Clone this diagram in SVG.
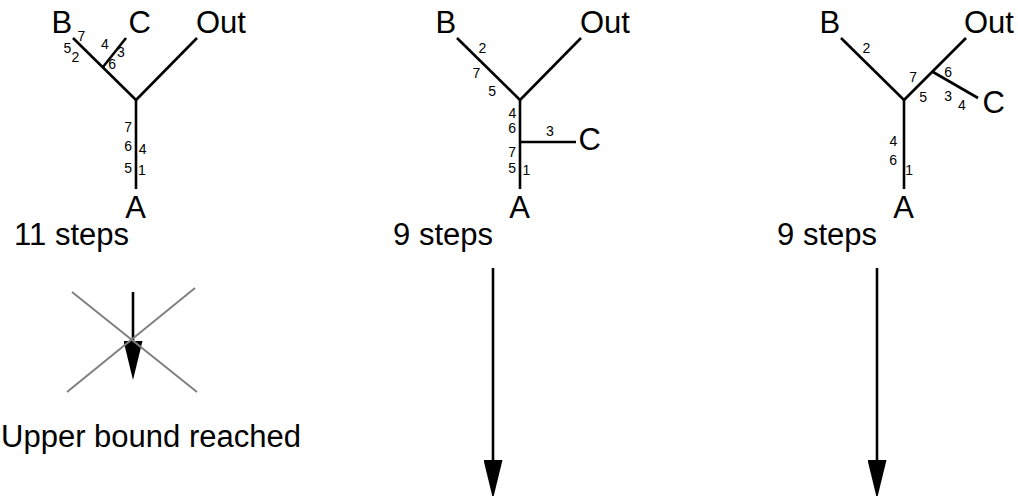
<svg xmlns="http://www.w3.org/2000/svg" width="1018" height="496" viewBox="0 0 1018 496">
  <style>
    .lbl { font-family: "Liberation Sans", Arial, sans-serif; font-size: 31px; fill: #000; }
    .num { font-family: "Liberation Sans", Arial, sans-serif; font-size: 14px; fill: #000; }
    .wire { stroke: #000; stroke-width: 2.6; fill: none; }
    .flow { stroke: #000; stroke-width: 2.6; fill: none; marker-end: url(#head); }
    .cross { stroke: #808080; stroke-width: 2; fill: none; }
  </style>
  <defs>
    <marker id="head" markerUnits="userSpaceOnUse" markerWidth="39" markerHeight="19" viewBox="0 -9.5 39 19" refX="0" refY="0" orient="auto">
      <path d="M0,-9.5 L39,0 L0,9.5 Z" fill="#000"/>
    </marker>
  </defs>
  <rect width="1018" height="496" fill="#fff"/>

  <g id="connectors">
    <!-- tree 1 -->
    <path class="wire" d="M136,100 V189"/>
    <path class="wire" d="M73,38 L136,100"/>
    <path class="wire" d="M136,100 L197,38"/>
    <path class="wire" d="M126,38 L103,67"/>
    <!-- tree 2 -->
    <path class="wire" d="M520,100 V189"/>
    <path class="wire" d="M457,38 L520,100"/>
    <path class="wire" d="M520,100 L581,38"/>
    <path class="wire" d="M520,142 H576"/>
    <!-- tree 3 -->
    <path class="wire" d="M904,100 V189"/>
    <path class="wire" d="M841,38 L904,100"/>
    <path class="wire" d="M904,100 L966,38"/>
    <path class="wire" d="M933,72 L978,98"/>
    <!-- flow arrows -->
    <path class="flow" d="M133,292 V341"/>
    <path class="flow" d="M493,268 V460"/>
    <path class="flow" d="M877,268 V460"/>
  </g>

  <g id="cross">
    <path class="cross" d="M72,292 L197,392"/>
    <path class="cross" d="M195,288 L67,392"/>
  </g>

  <g id="tree1">
    <g id="t1-B"><text class="lbl" x="51.5" y="33">B</text></g>
    <g id="t1-C"><text class="lbl" x="128.5" y="33">C</text></g>
    <g id="t1-Out"><text class="lbl" x="196" y="33">Out</text></g>
    <g id="t1-A"><text class="lbl" x="135.5" y="217.5" text-anchor="middle">A</text></g>
    <g id="t1-nums">
      <text class="num" x="77.6" y="41">7</text>
      <text class="num" x="63.6" y="53">5</text>
      <text class="num" x="71.6" y="61.5">2</text>
      <text class="num" x="101" y="49.3">4</text>
      <text class="num" x="117" y="57.3">3</text>
      <text class="num" x="108.3" y="69">6</text>
      <text class="num" x="124.3" y="132.3">7</text>
      <text class="num" x="124.3" y="150.7">6</text>
      <text class="num" x="138.8" y="154">4</text>
      <text class="num" x="124.3" y="172.7">5</text>
      <text class="num" x="138" y="175">1</text>
    </g>
    <g id="t1-steps"><text class="lbl" x="129" y="245" text-anchor="end">11 steps</text></g>
  </g>

  <g id="tree2">
    <g id="t2-B"><text class="lbl" x="435.5" y="33">B</text></g>
    <g id="t2-Out"><text class="lbl" x="580" y="33">Out</text></g>
    <g id="t2-C"><text class="lbl" x="578.5" y="150">C</text></g>
    <g id="t2-A"><text class="lbl" x="519.5" y="217.5" text-anchor="middle">A</text></g>
    <g id="t2-nums">
      <text class="num" x="478.6" y="52.7">2</text>
      <text class="num" x="472.6" y="77.7">7</text>
      <text class="num" x="488.3" y="95.7">5</text>
      <text class="num" x="508.6" y="118.3">4</text>
      <text class="num" x="508.3" y="133.3">6</text>
      <text class="num" x="546" y="136">3</text>
      <text class="num" x="508.3" y="156.7">7</text>
      <text class="num" x="508.3" y="173.3">5</text>
      <text class="num" x="522.5" y="175">1</text>
    </g>
    <g id="t2-steps"><text class="lbl" x="493" y="245" text-anchor="end">9 steps</text></g>
  </g>

  <g id="tree3">
    <g id="t3-B"><text class="lbl" x="819.5" y="33">B</text></g>
    <g id="t3-Out"><text class="lbl" x="964" y="33">Out</text></g>
    <g id="t3-C"><text class="lbl" x="982.5" y="113.3">C</text></g>
    <g id="t3-A"><text class="lbl" x="903.5" y="217.5" text-anchor="middle">A</text></g>
    <g id="t3-nums">
      <text class="num" x="862.6" y="53">2</text>
      <text class="num" x="909.3" y="81.7">7</text>
      <text class="num" x="944.3" y="76.7">6</text>
      <text class="num" x="919.3" y="101.7">5</text>
      <text class="num" x="944.3" y="100.7">3</text>
      <text class="num" x="958" y="110">4</text>
      <text class="num" x="889.6" y="146">4</text>
      <text class="num" x="889.3" y="165">6</text>
      <text class="num" x="905.2" y="175">1</text>
    </g>
    <g id="t3-steps"><text class="lbl" x="877" y="245" text-anchor="end">9 steps</text></g>
  </g>

  <g id="bound-note"><text class="lbl" x="151" y="447" text-anchor="middle">Upper bound reached</text></g>
</svg>
